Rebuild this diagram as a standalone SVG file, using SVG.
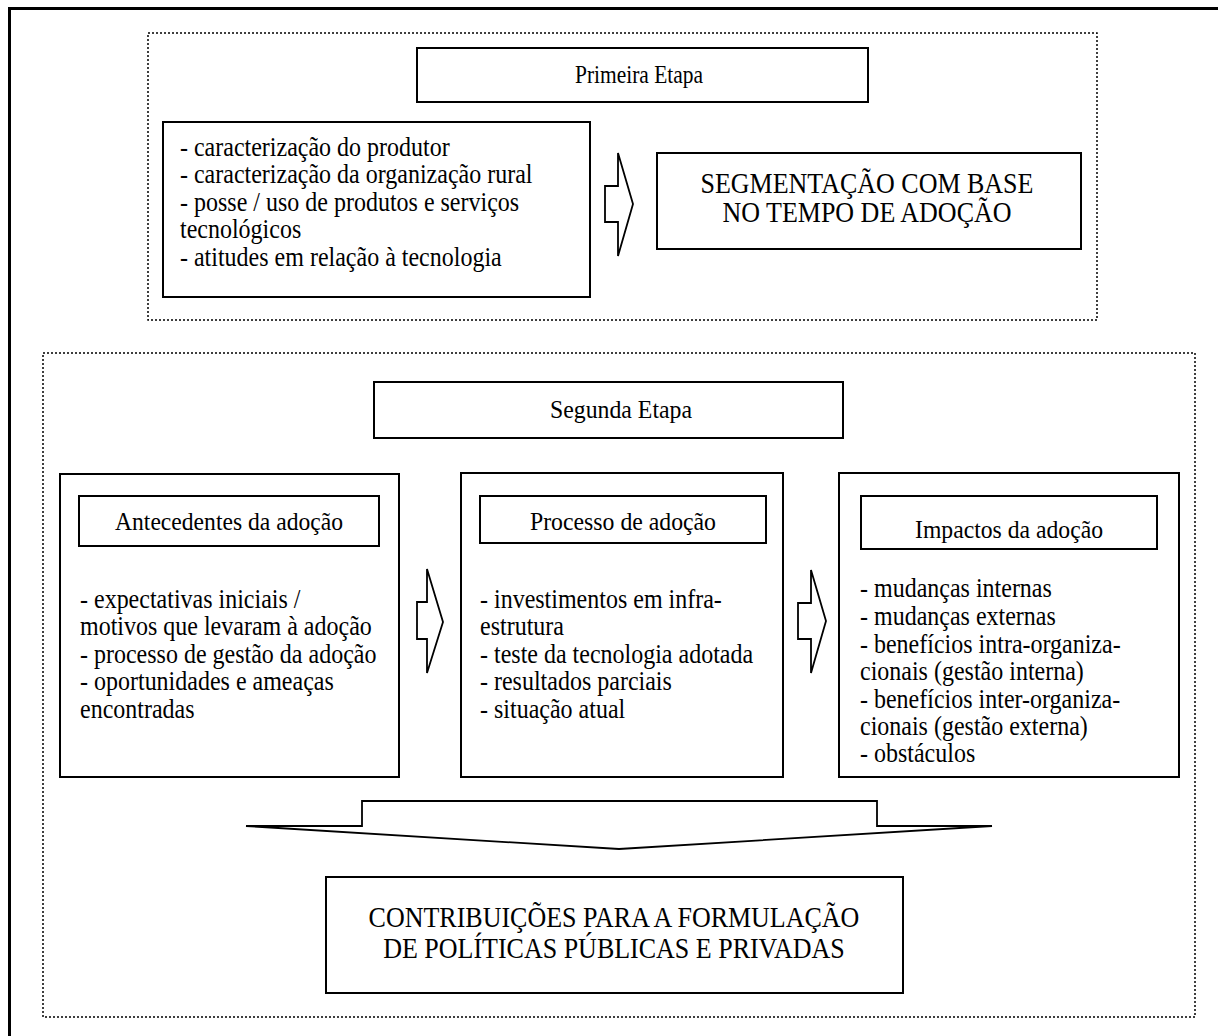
<svg xmlns="http://www.w3.org/2000/svg" width="1218" height="1036" viewBox="0 0 1218 1036">
<style>
.bg{fill:#fff}
.box{fill:#fff;stroke:#000;stroke-width:2}
.dot{fill:none;stroke:#000;stroke-width:1.5;stroke-dasharray:2 2}
.arrow{fill:#fff;stroke:#000;stroke-width:1.8;stroke-linejoin:miter}
.frame{fill:none;stroke:#000;stroke-width:3}
text{font-family:"Liberation Serif","Times New Roman",serif;fill:#000}
.t{font-size:24px}
.h{font-size:26px}
.big{font-size:26px}
.c{text-anchor:middle}
</style>
<rect class="bg" x="0" y="0" width="1218" height="1036"/>
<polyline class="frame" points="9.5,1036 9.5,8.5 1218,8.5"/>
<g id="etapa1-area"><rect class="dot" x="148" y="33" width="949" height="287"/></g>
<g id="etapa2-area"><rect class="dot" x="43" y="353" width="1152" height="664"/></g>
<g id="primeira-etapa">
<rect class="box" x="417" y="48" width="451" height="54"/>
<text class="h c" x="639" y="83" textLength="128" lengthAdjust="spacingAndGlyphs">Primeira Etapa</text>
</g>
<g id="caracterizacao">
<rect class="box" x="163" y="122" width="427" height="175"/>
<text class="t" transform="matrix(1 0 0 1.1 0 -15.6)"><tspan x="180" y="156">- caracterização do produtor</tspan><tspan x="180" y="180.5">- caracterização da organização rural</tspan><tspan x="180" y="206">- posse / uso de produtos e serviços</tspan><tspan x="180" y="230.5">tecnológicos</tspan><tspan x="180" y="256">- atitudes em relação à tecnologia</tspan></text>
</g>
<g id="segmentacao">
<rect class="box" x="657" y="153" width="424" height="96"/>
<text class="big c" x="867" y="193" transform="matrix(1 0 0 1.12 0 -23.16)">SEGMENTAÇÃO COM BASE</text>
<text class="big c" x="867" y="222" transform="matrix(1 0 0 1.12 0 -26.64)">NO TEMPO DE ADOÇÃO</text>
</g>
<g id="segunda-etapa">
<rect class="box" x="374" y="382" width="469" height="56"/>
<text class="h c" x="621" y="418" textLength="142" lengthAdjust="spacingAndGlyphs">Segunda Etapa</text>
</g>
<g id="antecedentes">
<rect class="box" x="60" y="474" width="339" height="303"/>
<rect class="box" x="79" y="496" width="300" height="50"/>
<text class="h c" x="229" y="530" textLength="228" lengthAdjust="spacingAndGlyphs">Antecedentes da adoção</text>
<text class="t" transform="matrix(1 0 0 1.1 0 -60.8)"><tspan x="80" y="608">- expectativas iniciais /</tspan><tspan x="80" y="632.5">motivos que levaram à adoção</tspan><tspan x="80" y="658">- processo de gestão da adoção</tspan><tspan x="80" y="682.5">- oportunidades e ameaças</tspan><tspan x="80" y="708">encontradas</tspan></text>
</g>
<g id="processo">
<rect class="box" x="461" y="473" width="322" height="304"/>
<rect class="box" x="480" y="496" width="286" height="47"/>
<text class="h c" x="623" y="530" textLength="186" lengthAdjust="spacingAndGlyphs">Processo de adoção</text>
<text class="t" transform="matrix(1 0 0 1.1 0 -60.8)"><tspan x="480" y="608">- investimentos em infra-</tspan><tspan x="480" y="632.5">estrutura</tspan><tspan x="480" y="658">- teste da tecnologia adotada</tspan><tspan x="480" y="682.5">- resultados parciais</tspan><tspan x="480" y="708">- situação atual</tspan></text>
</g>
<g id="impactos">
<rect class="box" x="839" y="473" width="340" height="304"/>
<rect class="box" x="861" y="496" width="296" height="53"/>
<text class="h c" x="1009" y="538" textLength="188" lengthAdjust="spacingAndGlyphs">Impactos da adoção</text>
<text class="t" transform="matrix(1 0 0 1.1 0 -59.7)"><tspan x="860" y="597">- mudanças internas</tspan><tspan x="860" y="622.5">- mudanças externas</tspan><tspan x="860" y="648">- benefícios intra-organiza-</tspan><tspan x="860" y="672.5">cionais (gestão interna)</tspan><tspan x="860" y="698">- benefícios inter-organiza-</tspan><tspan x="860" y="722.5">cionais (gestão externa)</tspan><tspan x="860" y="747">- obstáculos</tspan></text>
</g>
<g id="contribuicoes">
<rect class="box" x="326" y="877" width="577" height="116"/>
<text class="big c" x="614" y="927" transform="matrix(1 0 0 1.12 0 -111.24)">CONTRIBUIÇÕES PARA A FORMULAÇÃO</text>
<text class="big c" x="614" y="958" transform="matrix(1 0 0 1.12 0 -114.96)">DE POLÍTICAS PÚBLICAS E PRIVADAS</text>
</g>
<g id="connectors">
<polygon class="arrow" points="605,186 618,186 618,153 633,204 618,256 618,222 605,222"/>
<polygon class="arrow" points="417,602 427,602 427,569 443,622 427,673 427,639 417,639"/>
<polygon class="arrow" points="798,603 811,603 811,570 826,621 811,673 811,639 798,639"/>
<polygon class="arrow" points="362,801 877,801 877,826 992,826 619,849 246,826 362,826"/>
</g>
</svg>
